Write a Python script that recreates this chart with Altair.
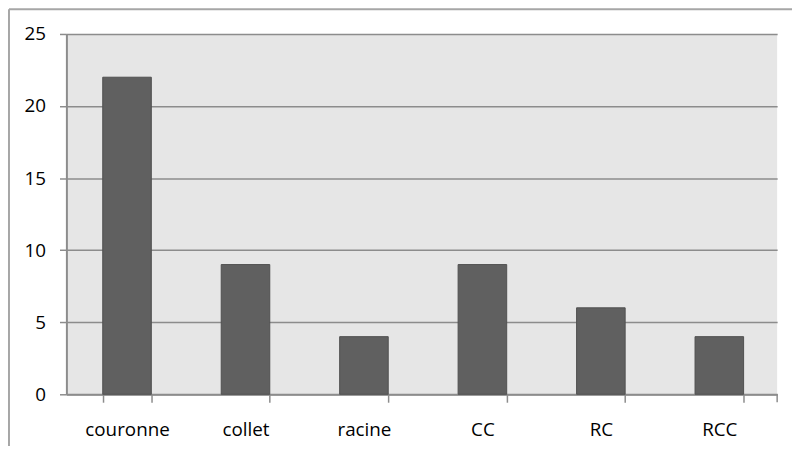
import altair as alt
import pandas as pd

categories = ["couronne", "collet", "racine", "CC", "RC", "RCC"]
values = [22, 9, 4, 9, 6, 4]
y_ticks = [0, 5, 10, 15, 20, 25]

df = pd.DataFrame({"cat": categories, "val": values})

W, H = 718, 364
FONT = "Open Sans"

bars = alt.Chart(df).mark_bar(
    fill="#606060", stroke="#505050", strokeWidth=1
).encode(
    x=alt.X("cat:N", sort=categories, title=None,
            scale=alt.Scale(paddingInner=0.59, paddingOuter=0.295, align=0.52),
            axis=alt.Axis(labelAngle=0, tickBand="extent", ticks=True, tickSize=8,
                          tickColor="#8c8c8c", tickWidth=1.5, domainColor="#8c8c8c",
                          domainWidth=2, labelPadding=19, grid=False)),
    y=alt.Y("val:Q", title=None,
            scale=alt.Scale(domain=[0, 25], nice=False),
            axis=alt.Axis(values=y_ticks, tickSize=7, tickColor="#8c8c8c", tickWidth=1.5,
                          domainColor="#8c8c8c", domainWidth=2, labelPadding=14,
                          gridColor="#8c8c8c", gridWidth=1.5, grid=True)),
)

edge = pd.DataFrame({"k": [0]})
last_tick = alt.Chart(edge).mark_rule(color="#8c8c8c", strokeWidth=1.5).encode(
    x=alt.value(W), y=alt.value(H), y2=alt.value(H + 8)
)
border_top = alt.Chart(edge).mark_rule(color="#a6a6a6", strokeWidth=2).encode(
    x=alt.value(-58), x2=alt.value(W + 200), y=alt.value(-25)
)
border_left = alt.Chart(edge).mark_rule(color="#a6a6a6", strokeWidth=2).encode(
    x=alt.value(-58), y=alt.value(-25), y2=alt.value(H + 200)
)

chart = alt.layer(bars, last_tick, border_top, border_left).properties(
    width=W, height=H,
    autosize=alt.AutoSizeParams(type="none"),
    padding={"left": 59, "top": 24, "right": 15, "bottom": 50},
    background="white",
).configure_view(
    fill="#e6e6e6", stroke=None
).configure_axis(
    labelFont=FONT, labelFontSize=19, labelColor="#000000"
)

chart.save("out.html", embed_options={"renderer": "svg", "actions": False})
